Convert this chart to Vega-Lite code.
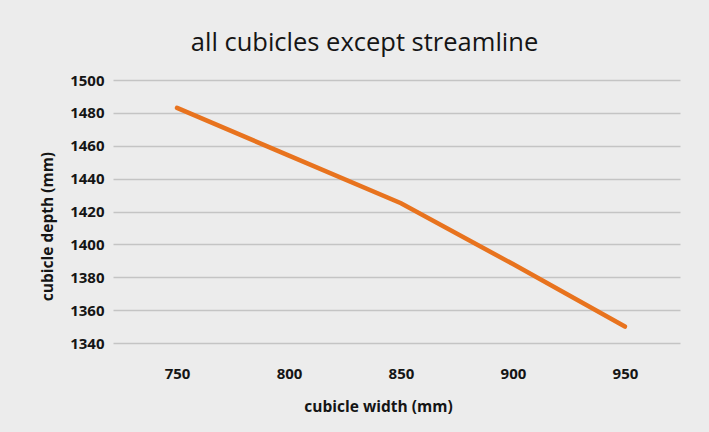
{
  "$schema": "https://vega.github.io/schema/vega-lite/v6.json",
  "width": 567,
  "height": 263,
  "autosize": "none",
  "padding": {"left": 113, "top": 80, "right": 29, "bottom": 89},
  "background": "#ececec",
  "title": {
    "text": "all cubicles except streamline",
    "font": "Open Sans",
    "fontSize": 25.5,
    "fontWeight": "normal",
    "color": "#151515",
    "anchor": "middle",
    "dx": -32,
    "offset": 17
  },
  "data": {
    "values": [
      {"width": 750, "depth": 1483},
      {"width": 800, "depth": 1454},
      {"width": 850, "depth": 1425},
      {"width": 900, "depth": 1388},
      {"width": 950, "depth": 1350}
    ]
  },
  "mark": {"type": "line", "color": "#e8731e", "strokeWidth": 4.5, "strokeCap": "round"},
  "encoding": {
    "x": {
      "field": "width",
      "type": "quantitative",
      "scale": {"domain": [721.4, 974.6], "zero": false, "nice": false},
      "axis": {
        "values": [750, 800, 850, 900, 950],
        "format": "d",
        "title": "cubicle width (mm)",
        "ticks": false,
        "domain": false,
        "grid": false,
        "labelPadding": 23,
        "titlePadding": 18,
        "titleX": 265
      }
    },
    "y": {
      "field": "depth",
      "type": "quantitative",
      "scale": {"domain": [1340, 1500], "zero": false, "nice": false},
      "axis": {
        "values": [1340, 1360, 1380, 1400, 1420, 1440, 1460, 1480, 1500],
        "format": "d",
        "title": "cubicle depth (mm)",
        "ticks": false,
        "domain": false,
        "grid": true,
        "labelPadding": 9,
        "titlePadding": 14,
        "titleY": 146
      }
    }
  },
  "config": {
    "view": {"stroke": null},
    "axis": {
      "gridColor": "#c4c4c4",
      "gridWidth": 1.5,
      "labelFont": "Open Sans",
      "labelFontWeight": "bold",
      "labelFontSize": 15,
      "labelColor": "#151515",
      "titleFont": "Open Sans",
      "titleFontSize": 15.5,
      "titleFontWeight": "bold",
      "titleColor": "#151515"
    }
  }
}
